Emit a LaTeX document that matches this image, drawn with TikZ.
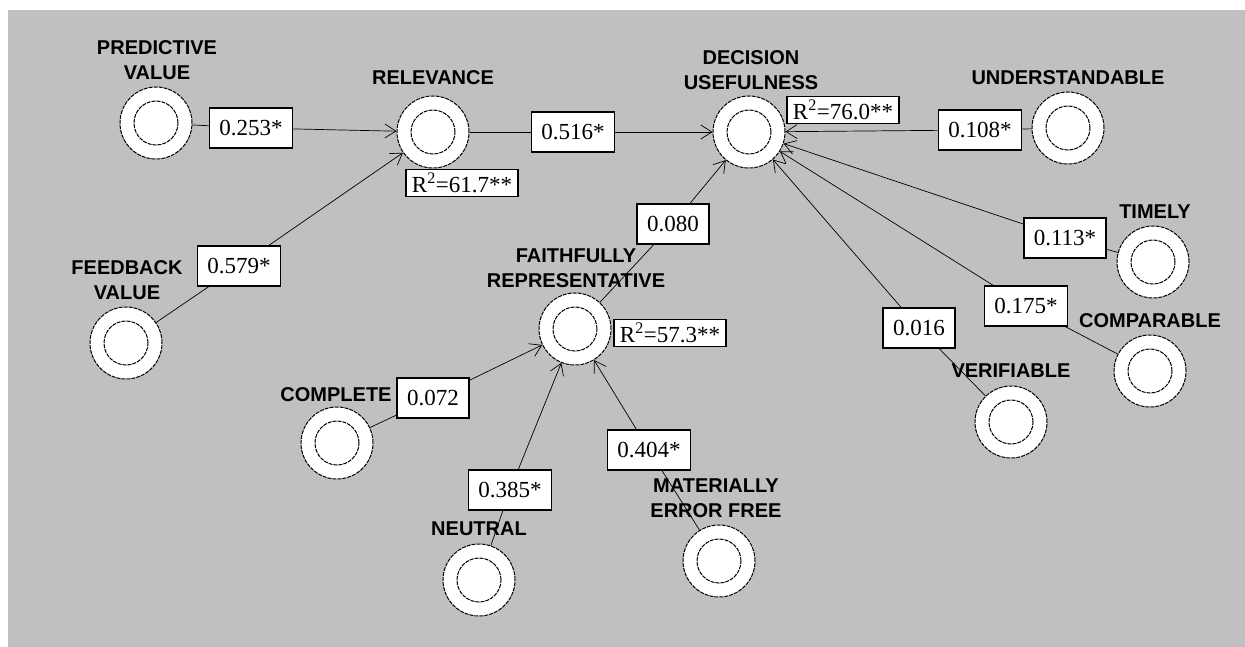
\documentclass[tikz,border=0pt]{standalone}
\usepackage{fontspec}
\setmainfont{Liberation Serif}
\newfontfamily\lblfont{Liberation Sans}
\usetikzlibrary{arrows.meta}
\definecolor{panelgray}{HTML}{C0C0C0}
\pgfdeclarelayer{back}
\pgfdeclarelayer{edges}
\pgfsetlayers{back,edges,main}

\begin{document}
\begin{tikzpicture}[x=1pt,y=-1pt,
 lv/.style={circle,draw,fill=white,minimum size=72pt,inner sep=0pt,line width=1pt,dash pattern=on 4pt off 1pt,
  path picture={\draw[line width=1pt,dash pattern=on 4pt off 1pt] (path picture bounding box.center) circle (22pt);}},
 lbl/.style={align=center,inner sep=0pt,font=\lblfont\bfseries\fontsize{20}{25}\selectfont},
 coef/.style={draw,fill=white,line width=1.5pt,minimum height=40pt,inner xsep=10pt,inner ysep=0pt,font=\fontsize{23}{25}\selectfont},
 rsq/.style={draw,fill=white,line width=1.5pt,minimum height=27pt,inner xsep=6pt,inner ysep=1pt,font=\fontsize{23}{25}\selectfont},
 arr/.style={line width=0.7pt,-{Straight Barb[length=11pt,width=14pt]}}]
\useasboundingbox (0,0) rectangle (1245,647);
\begin{pgfonlayer}{back}
\fill[panelgray] (8,10) rectangle (1245,647);
\end{pgfonlayer}

\node[lv] (pv)  at (156,123) {};
\node[lv] (rel) at (433,132) {};
\node[lv] (du)  at (749,132) {};
\node[lv] (und) at (1068,128) {};
\node[lv] (tim) at (1153,262) {};
\node[lv] (cmp) at (1150,371) {};
\node[lv] (ver) at (1011,422) {};
\node[lv] (fr)  at (575,329) {};
\node[lv] (com) at (337,443) {};
\node[lv] (neu) at (479,580) {};
\node[lv] (mat) at (719,561) {};
\node[lv] (fb)  at (126,343) {};

\node[lbl] (pv-l)  at (157,60)   {PREDICTIVE\\VALUE};
\node[lbl] (rel-l) at (433,77.5) {RELEVANCE};
\node[lbl] (du-l)  at (751,70)   {DECISION\\USEFULNESS};
\node[lbl] (und-l) at (1068,78)  {UNDERSTANDABLE};
\node[lbl] (tim-l) at (1155,212) {TIMELY};
\node[lbl] (cmp-l) at (1150,321) {COMPARABLE};
\node[lbl] (ver-l) at (1011,371) {VERIFIABLE};
\node[lbl] (fr-l)  at (576,268)  {FAITHFULLY\\REPRESENTATIVE};
\node[lbl] (com-l) at (336,395)  {COMPLETE};
\node[lbl] (neu-l) at (479,529)  {NEUTRAL};
\node[lbl] (mat-l) at (716,498)  {MATERIALLY\\ERROR FREE};
\node[lbl] (fb-l)  at (127,280)  {FEEDBACK\\VALUE};

\node[coef] (b253) at (251,128)  {0.253*};
\node[coef] (b579) at (239,266)  {0.579*};
\node[coef] (b516) at (573,132)  {0.516*};
\node[coef] (b108) at (980,130)  {0.108*};
\node[coef] (b113) at (1065,238) {0.113*};
\node[coef] (b175) at (1026,306) {0.175*};
\node[coef] (b016) at (919,328)  {0.016};
\node[coef] (b080) at (673,224)  {0.080};
\node[coef] (b072) at (433,398)  {0.072};
\node[coef] (b385) at (510,490)  {0.385*};
\node[coef] (b404) at (649,450)  {0.404*};

\node[rsq] (r617) at (462,183) {R\textsuperscript{2}=61.7**};
\node[rsq] (r760) at (843,110) {R\textsuperscript{2}=76.0**};
\node[rsq] (r573) at (670,333) {R\textsuperscript{2}=57.3**};

\begin{pgfonlayer}{edges}
\foreach \s/\b/\t in {pv/b253/rel,fb/b579/rel,rel/b516/du,und/b108/du,tim/b113/du,
  cmp/b175/du,ver/b016/du,fr/b080/du,com/b072/fr,neu/b385/fr,mat/b404/fr}
  \draw[arr] (\s) -- (\b) -- (\t);
\end{pgfonlayer}
\end{tikzpicture}
\end{document}
